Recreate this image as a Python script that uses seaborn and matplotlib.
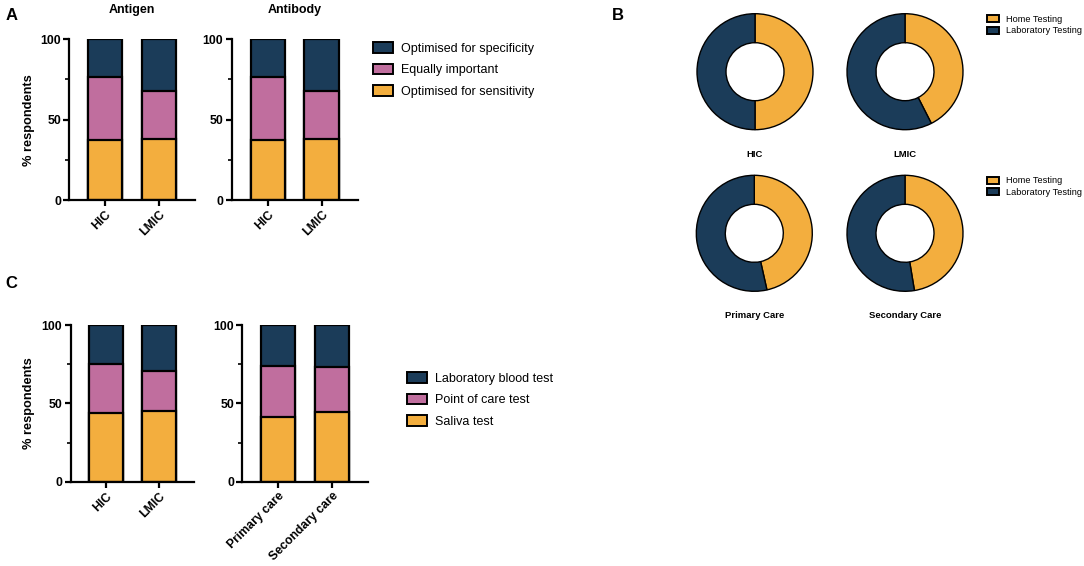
import numpy as np
import pandas as pd
import seaborn as sns
import matplotlib.pyplot as plt

# ---- data ----
income_groups = ["HIC", "LMIC"]
care_groups = ["Primary care", "Secondary care"]

antigen_sens = [37.5, 37.9]
antigen_equal = [39.0, 29.8]
antigen_spec = [23.5, 32.3]

antibody_sens = [37.5, 37.9]
antibody_equal = [39.0, 29.8]
antibody_spec = [23.5, 32.3]

income_saliva = [43.6, 45.2]
income_poc = [31.7, 25.2]
income_lab = [24.7, 29.6]

care_saliva = [41.0, 44.6]
care_poc = [33.0, 28.6]
care_lab = [26.0, 26.8]

donut_titles = ["HIC", "LMIC", "Primary Care", "Secondary Care"]
home_testing = [50.0, 42.5, 46.5, 47.4]
lab_testing = [50.0, 57.5, 53.5, 52.6]

A_labels = ["Optimised for specificity", "Equally important", "Optimised for sensitivity"]
C_labels = ["Laboratory blood test", "Point of care test", "Saliva test"]
donut_labels = ["Home Testing", "Laboratory Testing"]

ORANGE = "#F3AE3E"
PINK = "#C06E9E"
NAVY = "#1B3C59"

sns.set_theme(style="ticks")
plt.rcParams["font.family"] = ["Liberation Sans", "DejaVu Sans"]
for k in ["text.color", "axes.labelcolor", "xtick.color", "ytick.color", "axes.edgecolor"]:
    plt.rcParams[k] = "black"

W, H = 1084, 566
fig = plt.figure(figsize=(W / 100, H / 100), dpi=100)


def px_axes(x0, y0, x1, y1):
    # axes from pixel box (top-left origin)
    return fig.add_axes([x0 / W, 1 - y1 / H, (x1 - x0) / W, (y1 - y0) / H])


def stacked(ax, cats, bottom, middle, top, labels):
    df = pd.DataFrame({"cat": cats, "b": bottom, "m": middle, "t": top})
    df["c2"] = df["b"] + df["m"]
    df["c3"] = df["c2"] + df["t"]
    layers = [("c3", NAVY, labels[0]), ("c2", PINK, labels[1]), ("b", ORANGE, labels[2])]
    for col, colr, lab in layers:
        sns.barplot(data=df, x="cat", y=col, color=colr, saturation=1, width=0.64,
                    edgecolor="black", linewidth=1.6, ax=ax, label=lab, errorbar=None)
    if ax.get_legend():
        ax.get_legend().remove()
    ax.set_xlim(-0.67, 1.67)
    ax.set_ylim(0, 100)
    ax.set_yticks([0, 50, 100])
    ax.set_yticks([25, 75], minor=True)
    ax.set_xlabel("")
    ax.set_ylabel("")
    sns.despine(ax=ax)
    for s in ["left", "bottom"]:
        ax.spines[s].set_linewidth(1.6)
    ax.tick_params(axis="both", which="major", width=1.6, length=4, labelsize=8.8, pad=2)
    ax.tick_params(axis="y", which="minor", width=1.2, length=3)
    ax.set_xticks(range(len(cats)))
    ax.set_xticklabels(cats, rotation=45, ha="right", rotation_mode="anchor", fontweight="bold")
    for t in ax.get_yticklabels():
        t.set_fontweight("bold")
    return ax


def place_legend(ax, x, y, fs, spacing, hl, hh, pad):
    h, l = ax.get_legend_handles_labels()
    leg = fig.legend(h, l, loc="upper left", bbox_to_anchor=(x / W, 1 - y / H),
                     frameon=False, fontsize=fs, labelspacing=spacing, handlelength=hl,
                     handleheight=hh, handletextpad=pad, borderpad=0, borderaxespad=0)
    for p in leg.get_patches():
        p.set_linewidth(1.4)
    return leg


# ---- panel A ----
axA1 = px_axes(69.3, 39.3, 195, 200)
stacked(axA1, income_groups, antigen_sens, antigen_equal, antigen_spec, A_labels)
axA2 = px_axes(231.7, 39.3, 357.7, 200)
stacked(axA2, income_groups, antibody_sens, antibody_equal, antibody_spec, A_labels)
fig.text(132 / W, 1 - 10 / H, "Antigen", ha="center", va="center", fontsize=9, fontweight="bold")
fig.text(295 / W, 1 - 10 / H, "Antibody", ha="center", va="center", fontsize=9, fontweight="bold")
fig.text(29 / W, 1 - 120 / H, "% respondents", rotation=90, ha="center", va="center",
         fontsize=9.2, fontweight="bold")
place_legend(axA1, 373, 42, 9, 0.72, 1.6, 0.95, 0.65)

# ---- panel C ----
axC1 = px_axes(70.7, 325, 194, 481.7)
stacked(axC1, income_groups, income_saliva, income_poc, income_lab, C_labels)
axC2 = px_axes(242.3, 325, 368, 481.7)
stacked(axC2, care_groups, care_saliva, care_poc, care_lab, C_labels)
fig.text(29 / W, 1 - 403 / H, "% respondents", rotation=90, ha="center", va="center",
         fontsize=9.2, fontweight="bold")
place_legend(axC1, 407, 372, 9, 0.72, 1.6, 0.95, 0.65)

# ---- panel B: donuts ----
centers = [(755, 71.7), (905, 71.7), (754.3, 233.3), (905, 233.3)]
R = 58
for (cx, cy), title, home, lab in zip(centers, donut_titles, home_testing, lab_testing):
    ax = px_axes(cx - 60, cy - 60, cx + 60, cy + 60)
    wedges, _ = ax.pie([home, lab], colors=[ORANGE, NAVY], startangle=90, counterclock=False,
                       radius=1, wedgeprops=dict(width=0.5, edgecolor="black", linewidth=1.0))
    for w, lab_txt in zip(wedges, donut_labels):
        w.set_label(lab_txt)
    lim = 60 / R
    ax.set_xlim(-lim, lim)
    ax.set_ylim(-lim, lim)
    ax.set_aspect("equal")
    ax.axis("off")
    fig.text(cx / W, 1 - (cy + 82.5) / H, title, ha="center", va="center",
             fontsize=6.8, fontweight="bold")
    if title in ("LMIC", "Secondary Care"):
        place_legend(ax, 986.7, cy - 57, 6.6, 0.3, 1.3, 0.8, 0.8)

# panel letters
fig.text(12 / W, 1 - 16 / H, "A", ha="center", va="center", fontsize=12, fontweight="bold")
fig.text(618 / W, 1 - 15 / H, "B", ha="center", va="center", fontsize=12, fontweight="bold")
fig.text(11 / W, 1 - 284 / H, "C", ha="center", va="center", fontsize=12, fontweight="bold")

fig.savefig("out.png", dpi=100, facecolor="white")
